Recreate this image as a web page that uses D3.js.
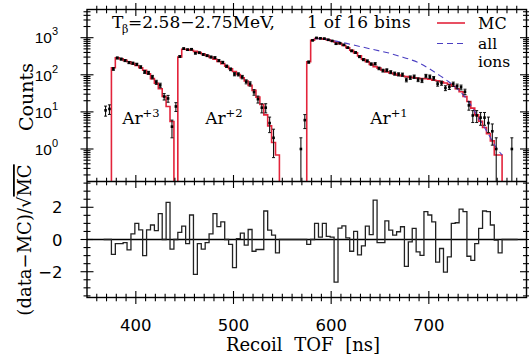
<!DOCTYPE html>
<html><head><meta charset="utf-8">
<script src="https://cdn.jsdelivr.net/npm/d3@7"></script>
<style>body{margin:0;background:#fff}</style>
</head><body><svg id="c" width="529" height="358"></svg>
<script>
// ---------------- data (4 ns bins starting at 367 ns) ----------------
const binStart = 367, binWidth = 4;
const mcCounts = [
  0, 0,
  155, 288, 269, 245, 224, 200, 178, 155, 132, 107, 79, 59, 42, 26, 14, 5.5,
  0,
  302, 490, 479, 457, 427, 398, 363, 331, 295, 263, 229, 200, 170, 145, 123, 102, 83, 68, 52, 38, 25, 15.8, 8.3, 4.2, 1.5, 0.69,
  0, 0, 0, 0, 0, 0, 0,
  224, 851, 955, 955, 912, 871, 813, 759, 692, 617, 537, 457, 389, 324, 263, 224, 191, 166, 151, 132,
  120, 112, 105, 98, 93, 89, 85, 83, 81, 79, 78, 76, 72, 69, 65, 60, 55, 49, 42, 35,
  26, 19, 12.6, 8.3, 5.6, 3.8, 2.6, 1.66, 0.69, 0.69,
  0, 0, 0, 0
];
const dataCounts = [
  11, 12,
  144, 284, 265, 242, 214, 205, 191, 162, 120, 113, 87, 63, 52, 26, 23, 4,
  14,
  310, 508, 474, 489, 382, 393, 352, 327, 301, 289, 241, 216, 170, 141, 104, 103, 87, 65, 57, 34, 22, 13, 13, 5, 2, null,
  null, null, null, null, null, 1, 6,
  220, 851, 986, 960, 942, 877, 817, 686, 710, 638, 539, 441, 399, 307, 256, 236, 195, 198, 149, 130,
  133, 118, 108, 103, 101, 73, 84, 89, 74, 70, 93, 89, 81, 57, 60, 44, 47, 56, 49, 46,
  35, 15, 8, 8, 7, 7, 5, 3, 1, null,
  null, null, 1, null
];
const residuals = [
  0, 0,
  -0.92, -0.25, -0.25, -0.2, -0.65, 0.35, 1.0, 0.6, -1.0, 0.6, 0.9, 0.55, 1.6, 0.0, 2.3, -0.6,
  0,
  0.44, 0.83, -0.25, 1.52, -2.17, -0.25, -0.6, -0.2, 0.35, 1.6, 0.8, 1.1, 0.0, -0.3, -1.75, 0.06, 0.4, -0.35, 0.62, -0.73, -0.62, -0.62, 1.77, 0.58, 0.27, -0.83,
  0, 0, 0, 0, 0, 0, 0,
  -0.3, 0.0, 1.0, 0.15, 1.0, 0.2, 0.15, -2.65, 0.7, 0.85, 0.1, -0.73, 0.5, -0.95, -0.4, 0.83, 0.3, 2.45, -0.2, -0.2,
  1.15, 0.58, 0.27, 0.48, 0.79, -1.67, -0.15, 0.69, -0.77, -0.98, 1.73, 1.52, 1.1, -1.4, -0.56, -2.02, -1.08, 1.0, 1.04, 1.88,
  1.73, -1.04, -1.29, -0.25, 0.69, 1.77, 1.73, 0.9, -0.04, -0.83,
  0, 0, 0, 0
];
const allIonsTof    = [583, 590, 600, 610, 620, 630, 640, 650, 660, 670, 680, 690, 700, 710, 720, 730, 740, 750, 760, 770, 775];
const allIonsCounts = [933, 933, 851, 759, 661, 575, 501, 437, 380, 316, 263, 209, 148, 100, 66, 40, 20, 7.6, 2.8, 1.0, 0.69];
const xTickLabels = [400, 500, 600, 700];
const yTopTickExps = [0, 1, 2, 3];
const yBotTickLabels = [-2, 0, 2];
const ionNames = ["Ar", "Ar", "Ar"];
const ionCharges = ["+3", "+2", "+1"];
const ionLabelTof = [386, 471, 640];
const ionLabelCounts = [4.7, 4.7, 4.7];

// ---------------- layout ----------------
const L = 87, R = 526.5, T = 9.5, M = 181.5, B = 297.5;
const serif = "'DejaVu Serif', serif", sans = "'DejaVu Sans', sans-serif", narrow = "'Liberation Sans Narrow', 'Liberation Sans', sans-serif";
const red = "#e3243b", blue = "#4b3fc2";

const svg = d3.select("#c");
const x = d3.scaleLinear().domain([350, 800]).range([L, R]);
const yT = d3.scaleLog().domain([0.133, 5750]).range([M, T]);
const yB = d3.scaleLinear().domain([-3.6, 3.6]).range([B, M]);

const defs = svg.append("defs");
defs.append("clipPath").attr("id", "clipT").append("rect").attr("x", L).attr("y", T).attr("width", R - L).attr("height", M - T);
defs.append("clipPath").attr("id", "clipB").append("rect").attr("x", L).attr("y", M).attr("width", R - L).attr("height", B - M);

const edges = mcCounts.map((_, i) => binStart + i * binWidth);
const yc = v => (v && v > 0) ? Math.min(yT(v), M + 2) : M + 2;

// MC step histogram
const mcPts = [];
mcCounts.forEach((v, i) => { mcPts.push([x(edges[i]), yc(v)]); mcPts.push([x(edges[i] + binWidth), yc(v)]); });
const gT = svg.append("g").attr("clip-path", "url(#clipT)");
gT.append("path").attr("d", d3.line()(mcPts)).attr("fill", "none").attr("stroke", red).attr("stroke-width", 1.6);

// all ions dashed
gT.append("path")
  .attr("d", d3.line().x((d, i) => x(allIonsTof[i])).y(d => yT(d)).curve(d3.curveMonotoneX)(allIonsCounts))
  .attr("fill", "none").attr("stroke", blue).attr("stroke-width", 1.1).attr("stroke-dasharray", "6,4");

// data points with error bars
dataCounts.forEach((v, i) => {
  if (v == null || v <= 0) return;
  const cx = x(edges[i] + binWidth / 2), e = Math.sqrt(v);
  const y1 = yT(v + e), y0 = (v - e) > 0.133 ? yT(v - e) : M + 3;
  gT.append("line").attr("x1", cx).attr("x2", cx).attr("y1", y1).attr("y2", y0).attr("stroke", "#111").attr("stroke-width", 1.1);
  [y1, y0].forEach(yy => gT.append("line").attr("x1", cx - 1.5).attr("x2", cx + 1.5).attr("y1", yy).attr("y2", yy).attr("stroke", "#111").attr("stroke-width", 1));
  gT.append("rect").attr("x", cx - 1.3).attr("y", yT(v) - 1.3).attr("width", 2.6).attr("height", 2.6).attr("fill", "#000");
});

// residual panel
const gB = svg.append("g").attr("clip-path", "url(#clipB)");
gB.append("line").attr("x1", L).attr("x2", R).attr("y1", yB(0)).attr("y2", yB(0)).attr("stroke", "#000").attr("stroke-width", 1.3);
const rPts = [];
residuals.forEach((v, i) => { rPts.push([x(edges[i]), yB(v)]); rPts.push([x(edges[i] + binWidth), yB(v)]); });
gB.append("path").attr("d", d3.line()(rPts)).attr("fill", "none").attr("stroke", "#222").attr("stroke-width", 1.3);

// frames
const fr = svg.append("g").attr("fill", "none").attr("stroke", "#000").attr("stroke-width", 1.4);
fr.append("rect").attr("x", L).attr("y", T).attr("width", R - L).attr("height", B - T);
fr.append("line").attr("x1", L).attr("x2", R).attr("y1", M).attr("y2", M);

// ticks
const tk = svg.append("g").attr("stroke", "#000").attr("stroke-width", 1.1);
d3.range(360, 800, 10).forEach(t => {
  const len = t % 100 === 0 ? 6.5 : 3.8;
  [T, M, B].forEach(yy => tk.append("line").attr("x1", x(t)).attr("x2", x(t)).attr("y1", yy - len).attr("y2", yy + len));
});
const logTicks = [];
for (let e = -1; e <= 3; e++) for (let m = 1; m <= 9; m++) { const v = m * Math.pow(10, e); if (v >= 0.133 && v <= 5750) logTicks.push([v, m === 1]); }
logTicks.forEach(([v, maj]) => {
  const len = maj ? 6.5 : 3.5;
  [L, R].forEach(xx => tk.append("line").attr("x1", xx - len).attr("x2", xx + len).attr("y1", yT(v)).attr("y2", yT(v)));
});
d3.range(-3.5, 3.51, 0.5).forEach(v => {
  const len = (Math.abs(v) % 2 === 0) ? 6.5 : 3.5;
  [L, R].forEach(xx => tk.append("line").attr("x1", xx - len).attr("x2", xx + len).attr("y1", yB(v)).attr("y2", yB(v)));
});

// tick labels
xTickLabels.forEach(t => svg.append("text").attr("x", x(t)).attr("y", 331).attr("text-anchor", "middle")
  .attr("font-family", sans).attr("font-size", 16.5).text(t));
yTopTickExps.forEach(e => {
  const tx = svg.append("text").attr("x", 58).attr("y", yT(Math.pow(10, e)) + 5.8).attr("text-anchor", "end")
    .attr("font-family", narrow).attr("font-size", 15.5);
  tx.append("tspan").text("10");
  tx.append("tspan").attr("dy", -8).attr("font-size", 11).text(e);
});
yBotTickLabels.forEach(v => svg.append("text").attr("x", 62.5).attr("y", yB(v) + 6).attr("text-anchor", "end")
  .attr("font-family", sans).attr("font-size", 16.5).text(v < 0 ? "\u2212" + Math.abs(v) : v));

// axis titles
svg.append("text").attr("transform", "translate(33,97) rotate(-90)").attr("text-anchor", "middle")
  .attr("font-family", serif).attr("font-size", 19).text("Counts");
const rl = svg.append("text").attr("transform", "translate(31,240) rotate(-90)").attr("text-anchor", "middle")
  .attr("font-family", serif).attr("font-size", 18);
rl.append("tspan").text("(data\u2212MC)/\u221A");
rl.append("tspan").attr("text-decoration", "overline").text("MC");
svg.append("text").attr("x", 303).attr("y", 351).attr("text-anchor", "middle")
  .attr("font-family", serif).attr("font-size", 18).attr("word-spacing", 6).text("Recoil TOF [ns]");

// title (stretched to the reference width via letter-spacing)
function fitText(sel, target) {
  const n = sel.text().length;
  const w = sel.node().getComputedTextLength();
  sel.attr("letter-spacing", ((target - w) / n).toFixed(2));
}
svg.append("text").attr("x", 112).attr("y", 28).attr("font-family", serif).attr("font-size", 17).text("T");
svg.append("text").attr("x", 122).attr("y", 33).attr("font-family", serif).attr("font-size", 11).text("\u03B2");
fitText(svg.append("text").attr("x", 128).attr("y", 28).attr("font-family", serif).attr("font-size", 17).text("=2.58\u22122.75MeV,"), 147);
fitText(svg.append("text").attr("x", 307).attr("y", 28).attr("font-family", serif).attr("font-size", 17).text("1 of 16 bins"), 104);

// legend
svg.append("line").attr("x1", 437).attr("x2", 465).attr("y1", 23).attr("y2", 23).attr("stroke", red).attr("stroke-width", 1.6);
svg.append("text").attr("x", 478).attr("y", 29).attr("font-family", serif).attr("font-size", 16).text("MC");
svg.append("line").attr("x1", 437).attr("x2", 466).attr("y1", 43.5).attr("y2", 43.5).attr("stroke", blue).attr("stroke-width", 1.1).attr("stroke-dasharray", "6,4");
svg.append("text").attr("x", 478).attr("y", 48.5).attr("font-family", serif).attr("font-size", 15.5).text("all");
svg.append("text").attr("x", 478).attr("y", 67).attr("font-family", serif).attr("font-size", 15.5).text("ions");

// ion labels
ionNames.forEach((n, i) => {
  const t = svg.append("text").attr("x", x(ionLabelTof[i])).attr("y", yT(ionLabelCounts[i])).attr("font-family", serif).attr("font-size", 17);
  t.append("tspan").text(n);
  t.append("tspan").attr("dy", -7).attr("font-size", 11.5).text(ionCharges[i]);
});
</script></body></html>
